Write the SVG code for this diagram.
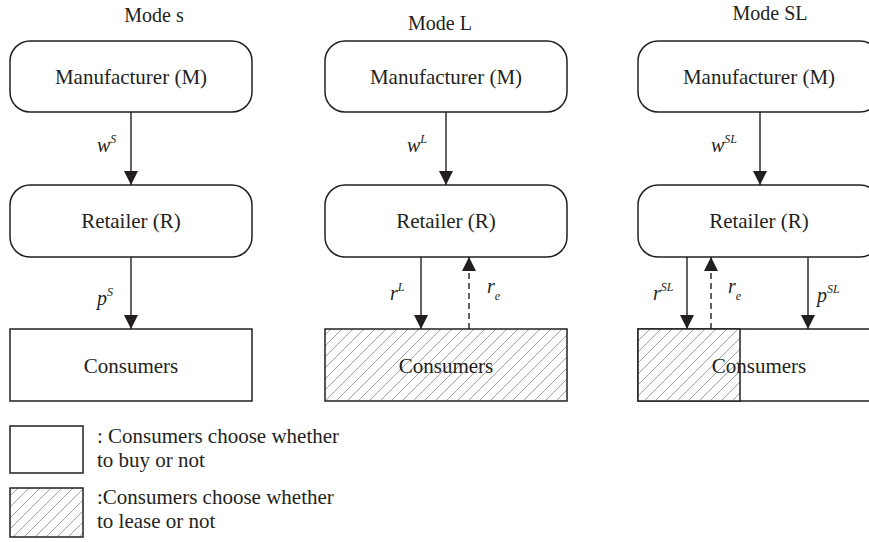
<svg xmlns="http://www.w3.org/2000/svg" width="869" height="542" viewBox="0 0 869 542">
<style>
  .box { fill: #ffffff; stroke: #231f20; stroke-width: 1.5; }
  .hbox { fill: url(#hatch); stroke: #231f20; stroke-width: 1.5; }
  .t { font-family: "Liberation Serif", "Times New Roman", serif; font-size: 21px; fill: #231f20; }
  .title { font-family: "Liberation Serif", "Times New Roman", serif; font-size: 20px; fill: #231f20; text-anchor: middle; }
  .c { text-anchor: middle; }
  .lab { font-family: "Liberation Serif", "Times New Roman", serif; font-size: 20px; font-style: italic; fill: #231f20; }
  .sup { font-size: 12px; }
  .arr { stroke: #231f20; stroke-width: 1.4; fill: none; marker-end: url(#ah); }
  .dash { stroke-dasharray: 6 4; }
</style>
<defs>
  <marker id="ah" markerUnits="userSpaceOnUse" markerWidth="14" markerHeight="14" viewBox="0 0 14 14" refX="14" refY="7" orient="auto">
    <path d="M0,0 L14,7 L0,14 z" fill="#231f20"/>
  </marker>
  <pattern id="hatch" patternUnits="userSpaceOnUse" width="11" height="11">
    <rect width="11" height="11" fill="#ffffff"/>
    <path d="M-1,12 L12,-1 M-6,6 L6,-6 M5,17 L17,5" stroke="#8a8a8a" stroke-width="0.8"/>
  </pattern>
</defs>

<rect width="869" height="542" fill="#ffffff"/>

<!-- Titles -->
<text class="title" x="154" y="22">Mode s</text>
<text class="title" x="440" y="30">Mode L</text>
<text class="title" x="770" y="20">Mode SL</text>

<!-- Mode s -->
<g id="s-manufacturer">
  <rect class="box" x="10" y="41" width="242" height="71" rx="20" ry="20"/>
  <text class="t c" x="131" y="84">Manufacturer (M)</text>
</g>
<g id="s-retailer">
  <rect class="box" x="10" y="185" width="242" height="72" rx="20" ry="20"/>
  <text class="t c" x="131" y="228">Retailer (R)</text>
</g>
<g id="s-consumers">
  <rect class="box" x="10" y="329" width="242" height="72"/>
  <text class="t c" x="131" y="373">Consumers</text>
</g>

<!-- Mode L -->
<g id="l-manufacturer">
  <rect class="box" x="325" y="41" width="242" height="71" rx="20" ry="20"/>
  <text class="t c" x="446" y="84">Manufacturer (M)</text>
</g>
<g id="l-retailer">
  <rect class="box" x="325" y="185" width="242" height="72" rx="20" ry="20"/>
  <text class="t c" x="446" y="228">Retailer (R)</text>
</g>
<g id="l-consumers">
  <rect class="hbox" x="325" y="329" width="242" height="72"/>
  <text class="t c" x="446" y="373">Consumers</text>
</g>

<!-- Mode SL -->
<g id="sl-manufacturer">
  <rect class="box" x="638" y="41" width="242" height="71" rx="20" ry="20"/>
  <text class="t c" x="759" y="84">Manufacturer (M)</text>
</g>
<g id="sl-retailer">
  <rect class="box" x="638" y="185" width="242" height="72" rx="20" ry="20"/>
  <text class="t c" x="759" y="228">Retailer (R)</text>
</g>
<g id="sl-consumers">
  <rect class="box" x="638" y="329" width="242" height="72"/>
  <rect class="hbox" x="638" y="329" width="102" height="72"/>
  <text class="t c" x="759" y="373">Consumers</text>
</g>

<!-- Connectors -->
<g id="connectors">
  <line class="arr" x1="131" y1="112" x2="131" y2="185"/>
  <line class="arr" x1="131" y1="257" x2="131" y2="329"/>
  <line class="arr" x1="446" y1="112" x2="446" y2="185"/>
  <line class="arr" x1="421" y1="257" x2="421" y2="329"/>
  <line class="arr dash" x1="469" y1="329" x2="469" y2="257"/>
  <line class="arr" x1="760" y1="112" x2="760" y2="185"/>
  <line class="arr" x1="687" y1="257" x2="687" y2="329"/>
  <line class="arr dash" x1="711" y1="329" x2="711" y2="257"/>
  <line class="arr" x1="808" y1="257" x2="808" y2="329"/>
</g>

<!-- Connector labels -->
<g id="labels">
  <text class="lab" x="97" y="152">w<tspan class="sup" dy="-9">S</tspan></text>
  <text class="lab" x="97" y="305">p<tspan class="sup" dy="-9">S</tspan></text>
  <text class="lab" x="407" y="152">w<tspan class="sup" dy="-9">L</tspan></text>
  <text class="lab" x="390" y="300">r<tspan class="sup" dy="-9">L</tspan></text>
  <text class="lab" x="487" y="293">r<tspan class="sup" dy="7">e</tspan></text>
  <text class="lab" x="711" y="152">w<tspan class="sup" dy="-9">SL</tspan></text>
  <text class="lab" x="653" y="300">r<tspan class="sup" dy="-9">SL</tspan></text>
  <text class="lab" x="728" y="293">r<tspan class="sup" dy="7">e</tspan></text>
  <text class="lab" x="817" y="302">p<tspan class="sup" dy="-9">SL</tspan></text>
</g>

<!-- Legend -->
<g id="legend-buy">
  <rect class="box" x="10" y="426" width="73" height="47"/>
  <text class="t" x="97" y="443">: Consumers choose whether</text>
  <text class="t" x="97" y="467">to buy or not</text>
</g>
<g id="legend-lease">
  <rect class="hbox" x="10" y="488" width="73" height="49"/>
  <text class="t" x="97" y="504">:Consumers choose whether</text>
  <text class="t" x="97" y="528">to lease or not</text>
</g>
</svg>
